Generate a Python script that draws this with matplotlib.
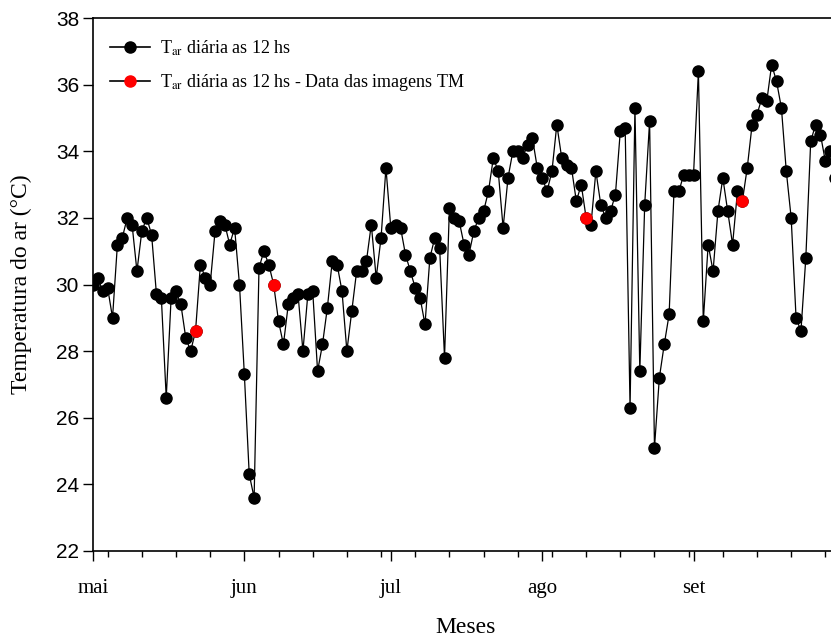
import numpy as np
import matplotlib
matplotlib.use("Agg")
import matplotlib.pyplot as plt
from matplotlib.lines import Line2D
from matplotlib.ticker import FixedLocator

# daily air temperature at 12h, day 0 = 1 May
temp = [30.0, 30.2, 29.8, 29.9, 29.0, 31.2, 31.4, 32.0, 31.8, 30.4,
        31.6, 32.0, 31.5, 29.7, 29.6, 26.6, 29.6, 29.8, 29.4, 28.4,
        28.0, 28.6, 30.6, 30.2, 30.0, 31.6, 31.9, 31.8, 31.2, 31.7,
        30.0, 27.3, 24.3, 23.6, 30.5, 31.0, 30.6, 30.0, 28.9, 28.2,
        29.4, 29.6, 29.7, 28.0, 29.7, 29.8, 27.4, 28.2, 29.3, 30.7,
        30.6, 29.8, 28.0, 29.2, 30.4, 30.4, 30.7, 31.8, 30.2, 31.4,
        33.5, 31.7, 31.8, 31.7, 30.9, 30.4, 29.9, 29.6, 28.8, 30.8,
        31.4, 31.1, 27.8, 32.3, 32.0, 31.9, 31.2, 30.9, 31.6, 32.0,
        32.2, 32.8, 33.8, 33.4, 31.7, 33.2, 34.0, 34.0, 33.8, 34.2,
        34.4, 33.5, 33.2, 32.8, 33.4, 34.8, 33.8, 33.6, 33.5, 32.5,
        33.0, 32.0, 31.8, 33.4, 32.4, 32.0, 32.2, 32.7, 34.6, 34.7,
        26.3, 35.3, 27.4, 32.4, 34.9, 25.1, 27.2, 28.2, 29.1, 32.8,
        32.8, 33.3, 33.3, 33.3, 36.4, 28.9, 31.2, 30.4, 32.2, 33.2,
        32.2, 31.2, 32.8, 32.5, 33.5, 34.8, 35.1, 35.6, 35.5, 36.6,
        36.1, 35.3, 33.4, 32.0, 29.0, 28.6, 30.8, 34.3, 34.8, 34.5,
        33.7, 34.0, 33.2]
days = np.arange(len(temp))

# dates of the TM images (days after 1 May)
tm_days = [21, 37, 101, 133]

month_days = [0, 31, 61, 92, 123]
month_labels = ["mai", "jun", "jul", "ago", "set"]
week_days = list(range(3, 170, 7))

serif = "Liberation Serif"
sans = "Liberation Sans"
plt.rcParams["mathtext.fontset"] = "stix"

fig = plt.figure(figsize=(8.31, 6.40), dpi=100)
# axes runs past the right edge of the picture, like the cropped original
ax = fig.add_axes([93 / 831, 89 / 640, 830 / 831, 533 / 640])

temp = np.array(temp)
ax.plot(days, temp, color="black", lw=0.9, marker="o", ms=8,
        mfc="black", mec="black", zorder=2)
ax.plot(tm_days, temp[tm_days], ls="none", marker="o", ms=8,
        mfc="red", mec="red", zorder=3)

ax.set_xlim(0, 170)
ax.set_ylim(22, 38)
ax.set_yticks(np.arange(22, 39, 2))
ax.xaxis.set_major_locator(FixedLocator(month_days))
ax.set_xticklabels(month_labels, family=serif, fontsize=15)
ax.xaxis.set_minor_locator(FixedLocator(week_days))
ax.tick_params(axis="x", which="major", direction="out", length=7,
               width=1, pad=13)
ax.tick_params(axis="x", which="minor", direction="out", length=4, width=1)
ax.tick_params(axis="y", direction="out", length=7, width=1, pad=3)
for lab in ax.get_yticklabels():
    lab.set_family(sans)
    lab.set_fontsize(15)
for sp in ax.spines.values():
    sp.set_linewidth(1.2)

ax.set_xlabel("Meses", family=serif, fontsize=17)
ax.set_ylabel("Temperatura do ar (°C)", family=serif, fontsize=17)
# label centres as in the original (axes is wider than the picture)
ax.xaxis.set_label_coords(373 / 830, -0.123, transform=ax.transAxes)
ax.yaxis.set_label_coords(-0.073, 0.5, transform=ax.transAxes)

h1 = Line2D([], [], color="black", lw=1.2, marker="o", ms=8,
            mfc="black", mec="black")
h2 = Line2D([], [], color="black", lw=1.2, marker="o", ms=8,
            mfc="red", mec="red")
ax.legend([h1, h2],
          [r"T$_{\mathrm{ar}}$ diária as 12 hs",
           r"T$_{\mathrm{ar}}$ diária as 12 hs - Data das imagens TM"],
          loc="upper left", bbox_to_anchor=(0.005, 0.985), frameon=False,
          prop={"family": serif, "size": 13}, handlelength=2.2,
          handletextpad=0.6, labelspacing=0.8, borderaxespad=0.3)

fig.savefig("out.png", dpi=100)
